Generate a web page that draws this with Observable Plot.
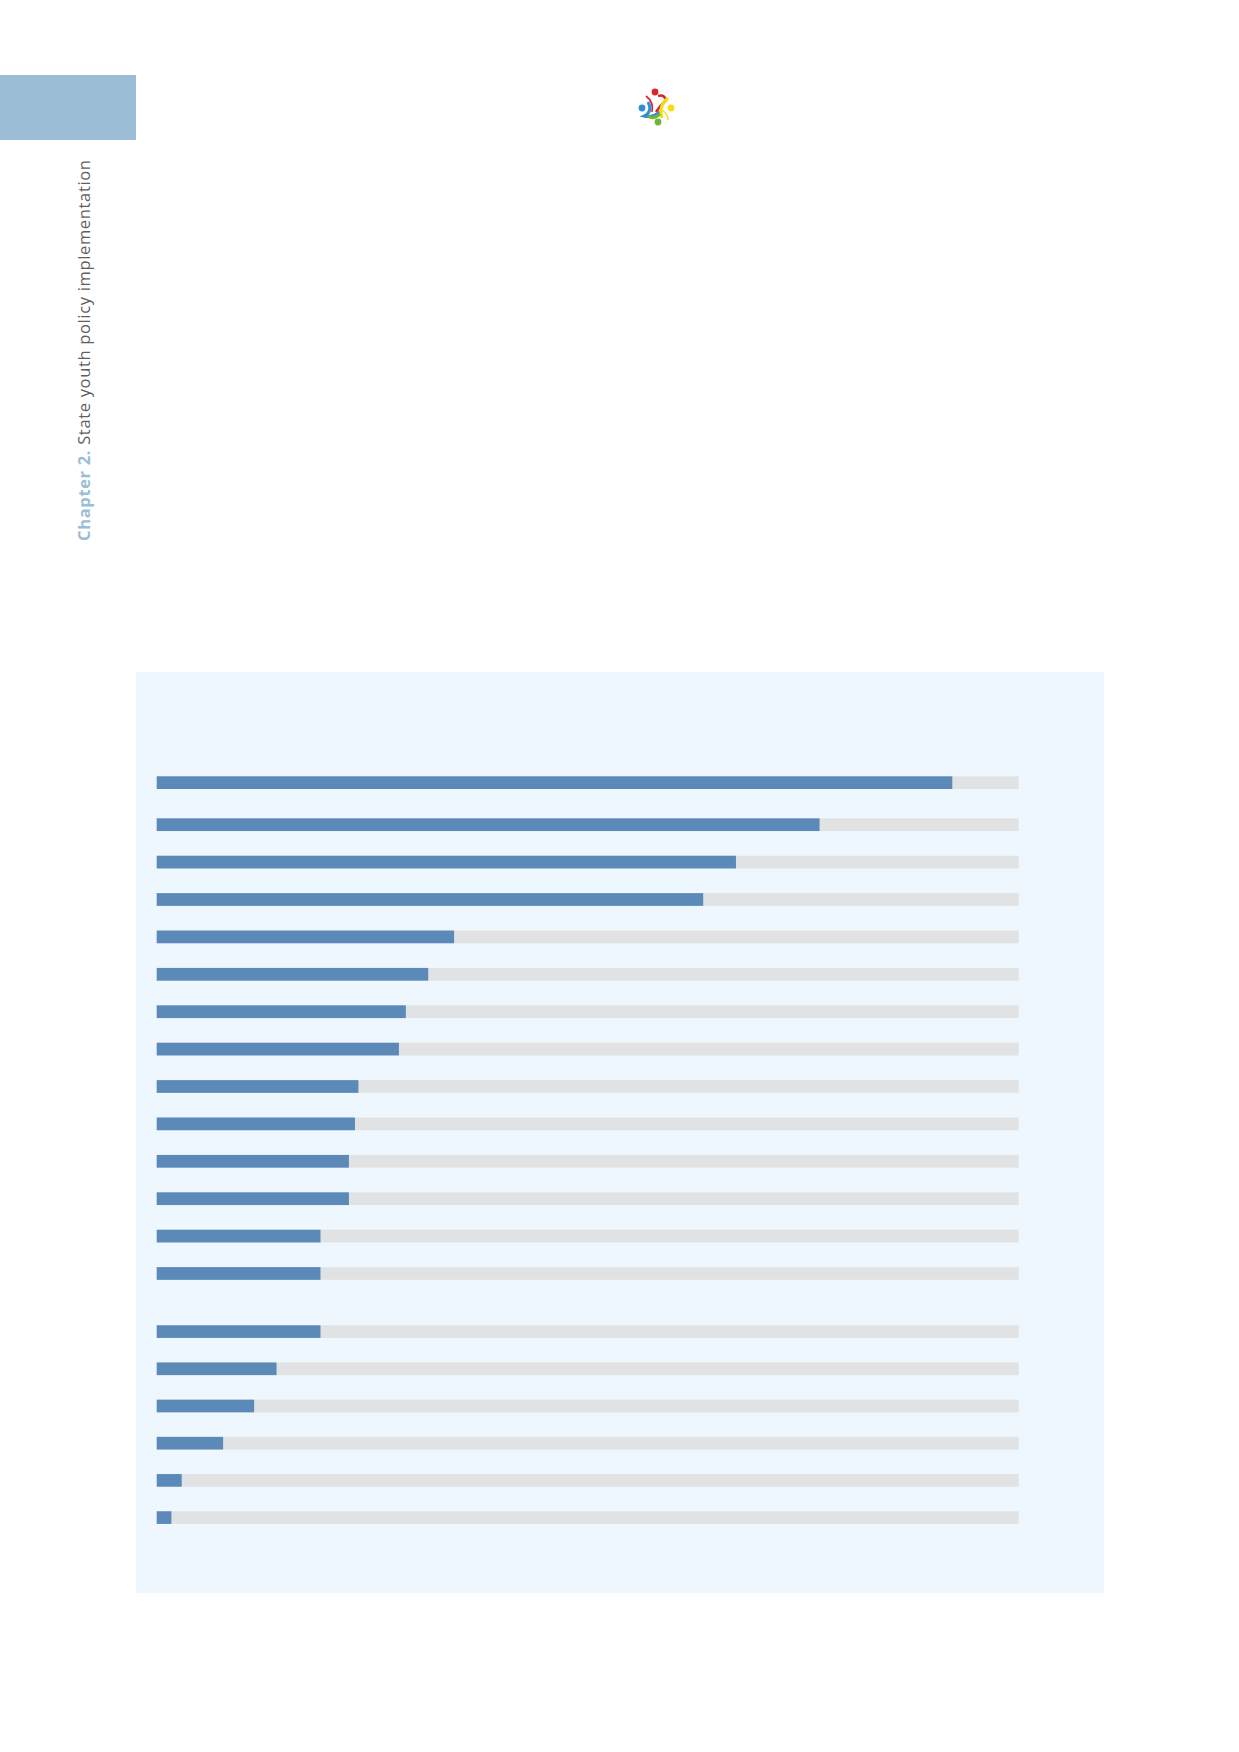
<!DOCTYPE html>
<html>
<head>
<meta charset="utf-8">
<script src="https://cdn.jsdelivr.net/npm/d3@7"></script>
<script src="https://cdn.jsdelivr.net/npm/@observablehq/plot@0.6"></script>
<style>
  html, body { margin: 0; padding: 0; background: #ffffff; }
  #page { position: relative; width: 1239px; height: 1752px; overflow: hidden; background: #ffffff; font-family: "Open Sans", sans-serif; }
  #tab { position: absolute; left: 0; top: 75px; width: 136px; height: 65px; background: #9bbdd5; }
  #deco { position: absolute; left: 0; top: 0; }
  #panel { position: absolute; left: 136px; top: 672px; width: 968px; height: 921px; background: #edf7fd; }
  .grp { position: absolute; left: 0; }
</style>
</head>
<body>
<div id="page">
  <div id="tab"></div>
  <svg id="deco" width="1239" height="600">
    <text transform="translate(90,541) rotate(-90)" font-family="Open Sans, sans-serif" font-size="16.5" textLength="381" lengthAdjust="spacing"><tspan fill="#9bbdd5" font-weight="bold">Chapter 2.</tspan><tspan fill="#5f5f5f" font-weight="400"> State youth policy implementation</tspan></text>
    <g transform="translate(656,108)">
      <path d="M-10,-12 Q-2,-6 -4,4" fill="none" stroke="#d7262b" stroke-width="1.6"/>
      <path d="M2,-12 Q8,-14 10,-8 Q4,-2 0,4" fill="none" stroke="#d7262b" stroke-width="2.5"/>
      <path d="M-8,-6 Q-3,4 -12,8 Q-4,10 4,4" fill="none" stroke="#2f8fd0" stroke-width="3"/>
      <path d="M12,-10 Q2,-2 6,10" fill="none" stroke="#f5dc14" stroke-width="3"/>
      <path d="M6,2 Q12,6 12,12" fill="none" stroke="#f5dc14" stroke-width="1.5"/>
      <path d="M-8,8 Q-2,12 4,6" fill="none" stroke="#6fb33a" stroke-width="3"/>
      <circle cx="-1" cy="-16" r="3.4" fill="#d7262b"/>
      <circle cx="-14" cy="0" r="3.4" fill="#2f8fd0"/>
      <circle cx="15" cy="0" r="3.4" fill="#f5dc14"/>
      <circle cx="2" cy="14" r="3.4" fill="#6fb33a"/>
    </g>
  </svg>
  <div id="panel"></div>
</div>
<script>
// Data: share of responses, % (labels not legible in the reference)
const categories = ["c1","c2","c3","c4","c5","c6","c7","c8","c9","c10","c11","c12","c13","c14","c15","c16","c17","c18","c19","c20"];
const values = [92.3, 76.9, 67.2, 63.4, 34.5, 31.5, 28.9, 28.1, 23.4, 23.0, 22.3, 22.3, 19.0, 19.0, 19.0, 13.9, 11.3, 7.7, 2.9, 1.7];
const groups = ["A","B","B","B","B","B","B","B","B","B","B","B","B","B","C","C","C","C","C","C"];
const maxValue = 100;

const rows = categories.map((c, i) => ({category: c, value: values[i], group: groups[i]}));

const step = {A: 37.3, B: 37.4, C: 37.2};
const groupTop = {A: 91.6, B: 134.0, C: 641.0};
const panel = document.getElementById("panel");

for (const g of ["A", "B", "C"]) {
  const data = rows.filter(d => d.group === g);
  const chart = Plot.plot({
    width: 968,
    height: data.length * step[g],
    marginLeft: 20.7,
    marginRight: 85.3,
    marginTop: 0,
    marginBottom: 0,
    style: {background: "transparent", overflow: "visible"},
    x: {domain: [0, maxValue], axis: null},
    y: {domain: data.map(d => d.category), axis: null, paddingInner: 0.66, paddingOuter: 0.33, round: false},
    marks: [
      Plot.barX(data, {y: "category", x1: 0, x2: maxValue, fill: "#e1e2e4"}),
      Plot.barX(data, {y: "category", x: "value", fill: "#5b8ab9"})
    ]
  });
  chart.classList.add("grp");
  chart.style.top = groupTop[g] + "px";
  panel.appendChild(chart);
}
</script>
</body>
</html>
